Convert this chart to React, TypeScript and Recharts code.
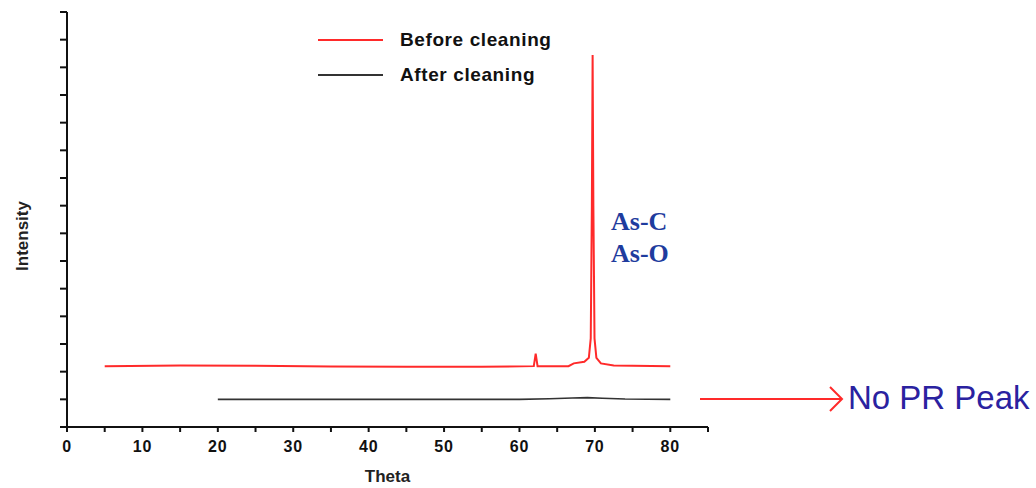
import React from "react";
import { LineChart, Line, XAxis, YAxis, Legend } from "recharts";

const thetaBefore = [5, 15, 25, 35, 45, 55, 61.9, 62.15, 62.4, 66.5, 67.2, 68.6, 69.2, 69.45, 69.6, 69.7, 69.8, 69.95, 70.2, 70.8, 72.5, 80];
const intensityBefore = [2.2, 2.22, 2.21, 2.19, 2.18, 2.18, 2.2, 2.65, 2.2, 2.2, 2.3, 2.36, 2.5, 3.2, 8.0, 13.45, 8.0, 3.2, 2.5, 2.3, 2.22, 2.2];
const thetaAfter = [20, 40, 60, 64, 67, 69, 71, 74, 80];
const intensityAfter = [1.0, 1.0, 1.0, 1.02, 1.05, 1.06, 1.04, 1.01, 1.0];
const xTicks = [0, 5, 10, 15, 20, 25, 30, 35, 40, 45, 50, 55, 60, 65, 70, 75, 80, 85];
const yTicks = [0, 1, 2, 3, 4, 5, 6, 7, 8, 9, 10, 11, 12, 13, 14, 15];
const seriesNames = ["Before cleaning", "After cleaning"];
const peakLabels = ["As-C", "As-O"];
const noPeakText = "No PR Peak";

const beforeData = thetaBefore.map((t, i) => ({ theta: t, intensity: intensityBefore[i] }));
const afterData = thetaAfter.map((t, i) => ({ theta: t, intensity: intensityAfter[i] }));

const sans = "'Liberation Sans', Arial, sans-serif";

const XTick = (props: any) => {
  const { x, y, payload } = props;
  if (payload.value % 10 !== 0) return <g />;
  return (
    <text x={x} y={y + 7} dy="0.71em" textAnchor="middle" fontFamily={sans} fontWeight="bold" fontSize={16} letterSpacing={0.8} fill="#111">
      {payload.value}
    </text>
  );
};

const LegendContent = (props: any) => {
  const payload = [...(props.payload || [])].sort(
    (a: any, b: any) => seriesNames.indexOf(a.value) - seriesNames.indexOf(b.value)
  );
  return (
    <div style={{ fontFamily: sans }}>
      {payload.map((p: any, i: number) => (
        <div key={i} style={{ display: "flex", alignItems: "center", height: 35 }}>
          <svg width={82} height={6} style={{ display: "block" }}>
            <line x1={0} y1={3} x2={65} y2={3} stroke={p.color} strokeWidth={2} />
          </svg>
          <span style={{ fontWeight: "bold", fontSize: 19, color: "#111", letterSpacing: 0.6 }}>{p.value}</span>
        </div>
      ))}
    </div>
  );
};

export default function App() {
  return (
    <div style={{ position: "absolute", left: 0, top: 0, width: 1036, height: 488, background: "#fff" }}>
      <LineChart width={1036} height={488} margin={{ top: 12, right: 328, bottom: 6, left: 7 }}>
        <XAxis
          type="number"
          dataKey="theta"
          domain={[0, 85]}
          ticks={xTicks}
          interval={0}
          tick={<XTick />}
          tickSize={5}
          stroke="#111"
          strokeWidth={2}
          height={55}
          label={{ value: "Theta", position: "insideBottom", offset: 0, fontFamily: sans, fontSize: 17, fontWeight: "bold", fill: "#222" }}
        />
        <YAxis
          type="number"
          dataKey="intensity"
          domain={[0, 15]}
          ticks={yTicks}
          interval={0}
          tickFormatter={() => ""}
          tickSize={7}
          stroke="#111"
          strokeWidth={2}
          width={60}
          label={{
            content: () => (
              <text x={22} y={236} transform="rotate(-90 22 236)" textAnchor="middle" dominantBaseline="central" fontFamily={sans} fontSize={17} fontWeight="bold" fill="#222">
                Intensity
              </text>
            ),
          }}
        />
        <Legend
          layout="vertical"
          align="center"
          verticalAlign="middle"
          content={<LegendContent />}
          wrapperStyle={{ left: 318, top: 22, width: 280 }}
        />
        <Line data={beforeData} dataKey="intensity" name={seriesNames[0]} stroke="#ff2a2a" strokeWidth={2} dot={false} type="linear" isAnimationActive={false} />
        <Line data={afterData} dataKey="intensity" name={seriesNames[1]} stroke="#333" strokeWidth={1.6} dot={false} type="linear" isAnimationActive={false} />
      </LineChart>
      <div style={{ position: "absolute", left: 611, top: 206, fontFamily: "'Liberation Serif', 'Times New Roman', serif", fontWeight: "bold", fontSize: 26, color: "#1f3c9e", lineHeight: "32px" }}>
        <div>{peakLabels[0]}</div>
        <div>{peakLabels[1]}</div>
      </div>
      <svg style={{ position: "absolute", left: 0, top: 0 }} width={1036} height={488} pointerEvents="none">
        <line x1={700} y1={399} x2={842} y2={399} stroke="#ff2a2a" strokeWidth={2} />
        <polyline points="830,387 842,399 830,411" fill="none" stroke="#ff2a2a" strokeWidth={2} />
      </svg>
      <div style={{ position: "absolute", left: 848, top: 378, fontFamily: sans, fontSize: 33, color: "#2a22a0", whiteSpace: "nowrap", lineHeight: "40px" }}>
        {noPeakText}
      </div>
    </div>
  );
}
